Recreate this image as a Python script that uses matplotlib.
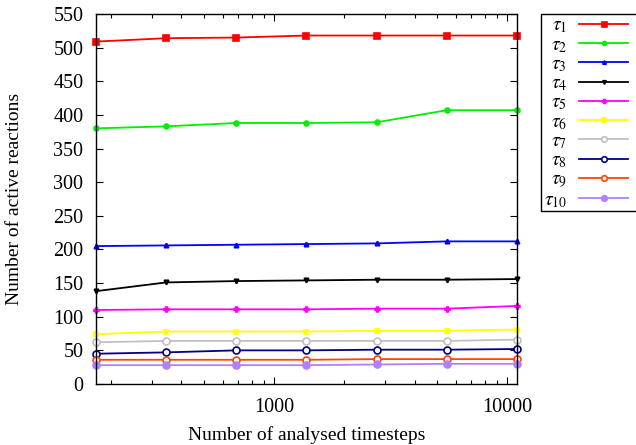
import matplotlib

matplotlib.use("Agg")
import matplotlib.pyplot as plt
from matplotlib.patches import Rectangle
from matplotlib.ticker import LogLocator, NullFormatter, FixedLocator

plt.rcParams["font.family"] = ["Liberation Serif", "DejaVu Serif"]
plt.rcParams["mathtext.fontset"] = "stix"

# analysed timesteps (log x)
timesteps = [172, 344, 688, 1375, 2750, 5500, 11000]

tau1 = [509, 514, 515, 518, 518, 518, 518]
tau2 = [380, 383, 388, 388, 389, 407, 407]
tau3 = [205, 206, 207, 208, 209, 212, 212]
tau4 = [138, 151, 153, 154, 155, 155, 156]
tau5 = [110, 111, 111, 111, 112, 112, 116]
tau6 = [74, 78, 78, 78, 79, 79, 81]
tau7 = [62, 64, 64, 64, 64, 64, 66]
tau8 = [45, 47, 50, 50, 51, 51, 52]
tau9 = [36, 36, 36, 36, 37, 37, 37]
tau10 = [28, 28, 28, 28, 29, 30, 30]

series = [tau1, tau2, tau3, tau4, tau5, tau6, tau7, tau8, tau9, tau10]
labels = [r"$\tau_{%d}$" % (i + 1) for i in range(10)]
colors = ["#ff0000", "#00ee00", "#0000ff", "#000000", "#ff00ff",
          "#ffff00", "#c0c0c0", "#000080", "#ff4500", "#b080ff"]
markers = ["s", "o", "^", "v", "P", "s", "o", "o", "o", "o"]
msizes = [4.5, 3.5, 3.2, 3.2, 3.5, 3.5, 5, 5, 5, 5]
filled = [True, True, True, True, True, True, False, False, False, True]

fig = plt.figure(figsize=(6.36, 4.45), dpi=100)
ax = fig.add_axes([96 / 636, 1 - 384 / 445, 421 / 636, 370 / 445])

for ys, lab, c, m, ms, f in zip(series, labels, colors, markers, msizes, filled):
    ax.plot(timesteps, ys, color=c, lw=1.3, marker=m, ms=ms,
            mfc=c if f else "white", mec=c, mew=1.2, label=lab, clip_on=False)

ax.set_xscale("log")
ax.set_xlim(172, 11000)
ax.set_ylim(0, 550)
ax.yaxis.set_major_locator(FixedLocator(range(0, 551, 50)))
ax.xaxis.set_major_locator(FixedLocator([1000, 10000]))
ax.xaxis.set_minor_locator(LogLocator(base=10, subs=range(2, 10)))
ax.xaxis.set_minor_formatter(NullFormatter())
ax.set_xticklabels(["1000", "10000"])

ax.tick_params(which="both", direction="in", top=True, right=True,
               labelsize=14.5, width=0.8)
ax.tick_params(axis="y", pad=9)
ax.tick_params(axis="x", pad=10)
ax.tick_params(which="major", length=5)
ax.tick_params(which="minor", length=3)
for s in ax.spines.values():
    s.set_linewidth(1.0)

ax.set_xlabel("Number of analysed timesteps", fontsize=14, labelpad=7)
ax.set_ylabel("Number of active reactions", fontsize=14, labelpad=22)

leg = fig.legend(loc="upper left", bbox_to_anchor=(541 / 636, 1 - 14 / 445),
                 bbox_transform=fig.transFigure, markerfirst=False,
                 fontsize=14, frameon=False, handlelength=2.55,
                 handletextpad=0.6, labelspacing=0.05, borderpad=0.15,
                 borderaxespad=0, markerscale=0.8)

# legend box runs off the right edge of the figure, as in the original
fig.patches.append(Rectangle((541 / 636, 1 - 211 / 445), 110 / 636, 197 / 445,
                             transform=fig.transFigure, fill=False,
                             edgecolor="black", lw=1.0))

fig.savefig("out.png", dpi=100)
